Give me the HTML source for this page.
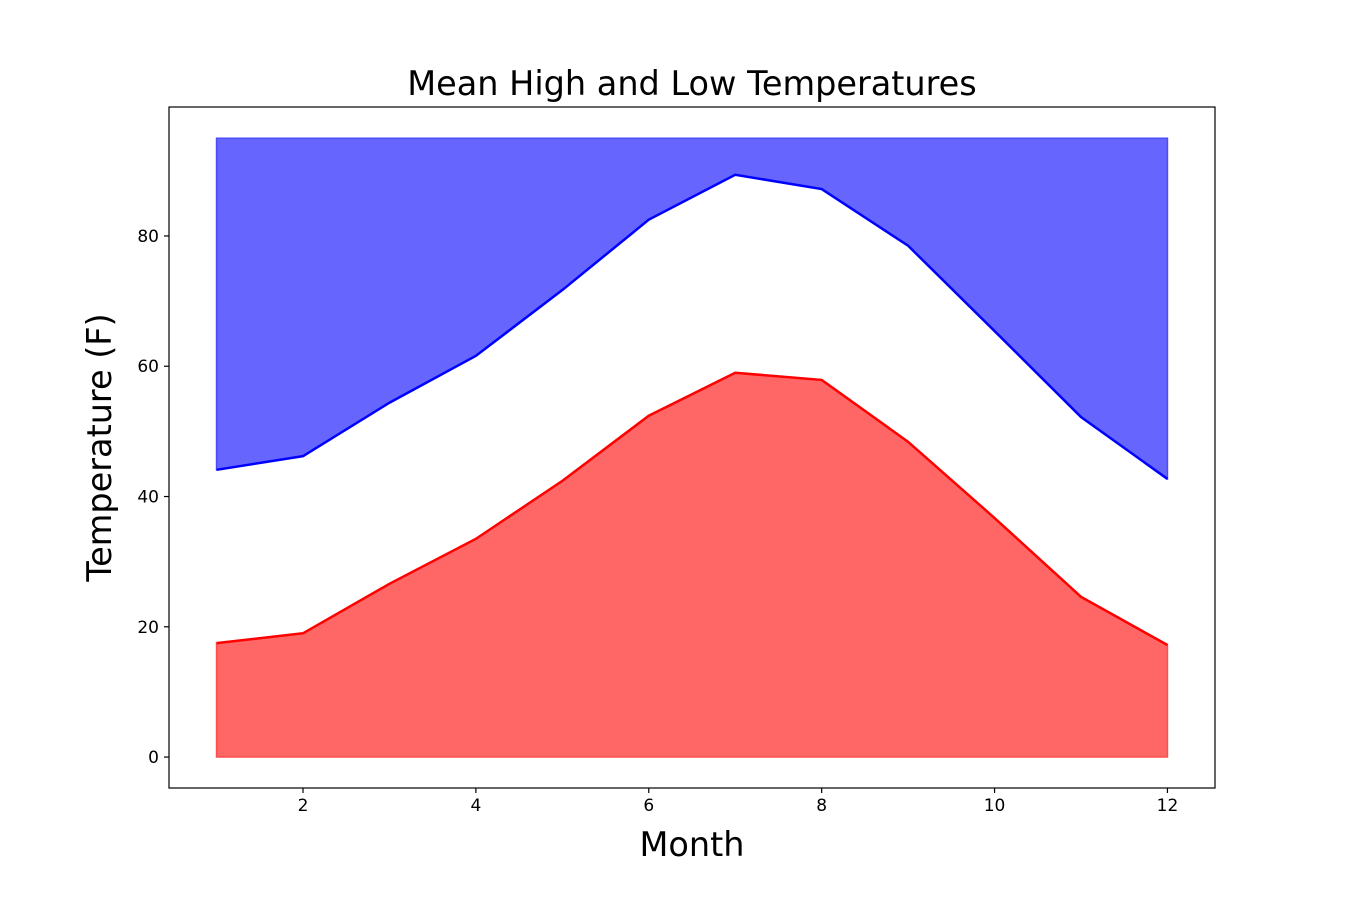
<!DOCTYPE html>
<html><head><meta charset="utf-8"><style>
body{margin:0;background:#fff;}
svg text{font-family:"DejaVu Sans","Liberation Sans",sans-serif;}
</style></head><body>
<svg id="chart" width="1350" height="900">
<rect width="1350" height="900" fill="#fff"/>
<g id="plot"></g>
</svg>
<script>
const months=[1,2,3,4,5,6,7,8,9,10,11,12];
const highs=[44.1,46.2,54.4,61.6,71.7,82.5,89.4,87.2,78.5,65.4,52.2,42.7];
const lows=[17.5,19.0,26.6,33.5,42.4,52.4,59.0,57.9,48.4,36.7,24.6,17.2];
const fillTop=95;
const xTicks=[2,4,6,8,10,12];
const yTicks=[0,20,40,60,80];
const L=169,R=1215,T=107,B=788;
const x0=0.45,x1=12.55,y0=-4.75,y1=99.8;
const sx=v=>L+(v-x0)/(x1-x0)*(R-L);
const sy=v=>B-(v-y0)/(y1-y0)*(B-T);
const NS="http://www.w3.org/2000/svg";
const g=document.getElementById('plot');
function mk(t,a,txt){const e=document.createElementNS(NS,t);for(const k in a)e.setAttribute(k,a[k]);if(txt!==undefined)e.textContent=txt;g.appendChild(e);return e;}
const hiPts=months.map((m,i)=>sx(m)+','+sy(highs[i]));
const loPts=months.map((m,i)=>sx(m)+','+sy(lows[i]));
let e;
e=mk('polygon',{points:hiPts.join(' ')+' '+sx(12)+','+sy(fillTop)+' '+sx(1)+','+sy(fillTop),fill:'#6666ff',stroke:'#4d4dff','stroke-width':1.5});


e=mk('polygon',{points:loPts.join(' ')+' '+sx(12)+','+sy(0)+' '+sx(1)+','+sy(0),fill:'#ff6666',stroke:'#ff4d4d','stroke-width':1.5});


e=mk('polyline',{points:hiPts.join(' '),fill:'none',stroke:'#0000ff','stroke-width':2.5});


e=mk('polyline',{points:loPts.join(' '),fill:'none',stroke:'#ff0000','stroke-width':2.5});


e=mk('rect',{x:L,y:T,width:R-L,height:B-T,fill:'none',stroke:'#000','stroke-width':1.2});


xTicks.forEach(v=>{
 const X=sx(v);
 e=mk('line',{x1:X,x2:X,y1:B,y2:B+5,stroke:'#000','stroke-width':1.2});
 
 
 e=mk('text',{x:X,y:B+23,'font-size':17,'text-anchor':'middle'},v);
 
 
});
yTicks.forEach(v=>{
 const Y=sy(v);
 e=mk('line',{x1:L-5,x2:L,y1:Y,y2:Y,stroke:'#000','stroke-width':1.2});
 
 
 e=mk('text',{x:L-10,y:Y+6,'font-size':17,'text-anchor':'end'},v);
 
 
});
e=mk('text',{x:(L+R)/2,y:95,'font-size':33.5,'text-anchor':'middle'},'Mean High and Low Temperatures');


e=mk('text',{x:(L+R)/2,y:856,'font-size':33.5,'text-anchor':'middle'},'Month');


e=mk('text',{x:111,y:(T+B)/2,'font-size':33.5,'text-anchor':'middle',transform:'rotate(-90 111 '+(T+B)/2+')'},'Temperature (F)');


</script>
</body></html>
